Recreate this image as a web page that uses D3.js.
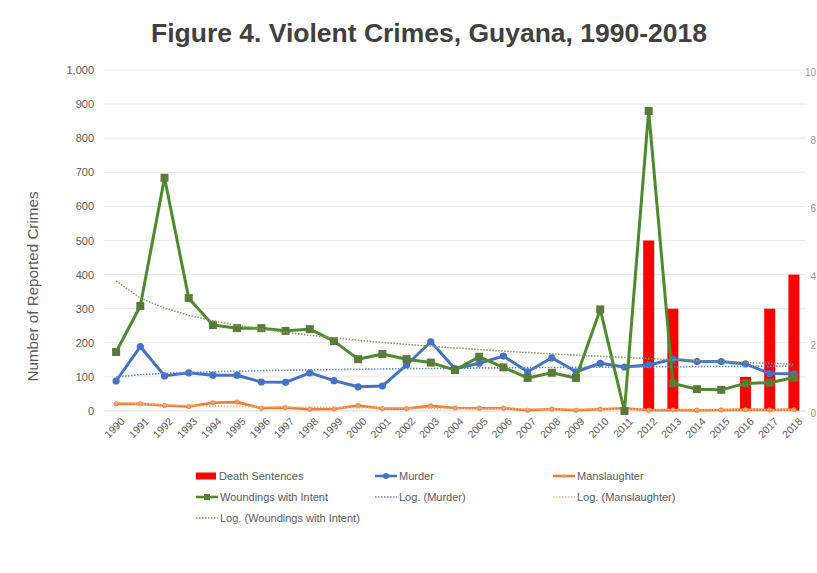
<!DOCTYPE html>
<html>
<head>
<meta charset="utf-8">
<script src="https://cdn.jsdelivr.net/npm/d3@7/dist/d3.min.js"></script>
<style>
  html, body { margin: 0; padding: 0; background: #fff; }
  svg text { font-family: "Liberation Sans", Arial, sans-serif; }
</style>
</head>
<body>
<svg id="chart" width="817" height="573"></svg>
<script>
// Violent crimes in Guyana, 1990-2018
const years = d3.range(1990, 2019).map(String);
const murder = [88,189,103,112,105,105,85,84,112,89,71,73,135,203,124,140,161,115,156,115,140,129,135,152,145,145,138,110,109];
const manslaughter = [21,21,16,13,24,26,8,10,5,6,16,7,7,15,9,8,8,2,6,2,5,8,2,3,2,3,4,3,4];
const woundings = [173,308,684,331,252,243,243,235,240,205,152,167,152,142,120,159,128,97,112,97,298,0,880,81,64,62,81,83,98];
const deathSentences = [0,0,0,0,0,0,0,0,0,0,0,0,0,0,0,0,0,0,0,0,0,0,5,3,0,0,1,3,4];
const leftTicks = [0,100,200,300,400,500,600,700,800,900,1000];
const rightTicks = [0,2,4,6,8,10];

const colors = {
  death: "#ff0000",
  murder: "#4472c4",
  manslaughter: "#ed7d31",
  woundings: "#4d8a2c",
  woundMarker: "#5a7a3c"
};

const svg = d3.select("#chart");
const plotL = 104, plotR = 806, plotT = 70, plotB = 411;

const x = d3.scaleBand().domain(years).range([plotL, plotR]);
const cx = d => x(d) + x.bandwidth() / 2;
const y = d3.scaleLinear().domain([0, 1000]).range([plotB, plotT]);
const y2 = d3.scaleLinear().domain([0, 10]).range([plotB, plotT]);

// Title
svg.append("text")
  .attr("x", 429).attr("y", 42)
  .attr("text-anchor", "middle")
  .attr("font-size", 25).attr("font-weight", "bold")
  .attr("fill", "#404040")
  .attr("textLength", 556).attr("lengthAdjust", "spacingAndGlyphs")
  .text("Figure 4. Violent Crimes, Guyana, 1990-2018");

// Horizontal gridlines
svg.append("g").selectAll("line").data(leftTicks.slice(1)).join("line")
  .attr("x1", plotL).attr("x2", plotR)
  .attr("y1", d => y(d)).attr("y2", d => y(d))
  .attr("stroke", "#e9e9e9").attr("stroke-width", 1);

// Left axis
const yAxis = svg.append("g")
  .attr("transform", `translate(${plotL - 10},0)`)
  .call(d3.axisLeft(y).tickValues(leftTicks).tickFormat(d3.format(",")).tickSize(0).tickPadding(0));
yAxis.select(".domain").remove();
yAxis.selectAll("text").attr("font-size", 11).attr("fill", "#595959")
  .attr("font-family", "Liberation Sans, Arial, sans-serif");

// Right axis (secondary, death sentences)
const y2Axis = svg.append("g")
  .attr("transform", `translate(816,2)`)
  .call(d3.axisLeft(y2).tickValues(rightTicks).tickSize(0).tickPadding(0));
y2Axis.select(".domain").remove();
y2Axis.selectAll("text").attr("font-size", 10).attr("fill", "#9a9a9a")
  .attr("font-family", "Liberation Sans, Arial, sans-serif");

// Axis title
svg.append("text")
  .attr("transform", `translate(38,${(plotT + plotB) / 2 + 46}) rotate(-90)`)
  .attr("text-anchor", "middle")
  .attr("font-size", 14).attr("fill", "#595959")
  .attr("textLength", 190).attr("lengthAdjust", "spacingAndGlyphs")
  .text("Number of Reported Crimes");

// Bars on the secondary scale
const barW = 11;
svg.append("g").selectAll("rect").data(years.map((yr, i) => ({yr, v: deathSentences[i]})).filter(d => d.v > 0))
  .join("rect")
  .attr("x", d => cx(d.yr) - barW / 2)
  .attr("y", d => y2(d.v))
  .attr("width", barW)
  .attr("height", d => y2(0) - y2(d.v))
  .attr("fill", colors.death);

// Baseline
svg.append("line")
  .attr("x1", plotL).attr("x2", plotR).attr("y1", plotB).attr("y2", plotB)
  .attr("stroke", "#d9d9d9").attr("stroke-width", 1);

// Bottom axis labels
const xAxis = svg.append("g")
  .attr("transform", `translate(0,${plotB + 4})`)
  .call(d3.axisBottom(x).tickSize(0).tickPadding(0));
xAxis.select(".domain").remove();
xAxis.selectAll("text")
  .attr("font-size", 10.5).attr("fill", "#595959")
  .attr("text-anchor", "end")
  .attr("dy", "0.7em")
  .attr("transform", "translate(4,2) rotate(-45)")
  .attr("font-family", "Liberation Sans, Arial, sans-serif");

// Logarithmic trendline: y = a*ln(k) + b, k = 1..n
function logTrend(vals) {
  const ls = vals.map((v, i) => Math.log(i + 1));
  const mx = d3.mean(ls), my = d3.mean(vals);
  let sxy = 0, sxx = 0;
  ls.forEach((l, i) => { sxy += (l - mx) * (vals[i] - my); sxx += (l - mx) * (l - mx); });
  const a = sxy / sxx, b = my - a * mx;
  return ls.map(l => a * l + b);
}

const line = d3.line().x((d, i) => cx(years[i])).y(d => y(d));

function trend(vals, color, dash) {
  svg.append("path")
    .datum(logTrend(vals))
    .attr("d", line)
    .attr("fill", "none")
    .attr("stroke", color)
    .attr("stroke-width", 1.6)
    .attr("stroke-dasharray", dash);
}

function series(vals, color, width) {
  svg.append("path")
    .datum(vals)
    .attr("d", line)
    .attr("fill", "none")
    .attr("stroke", color)
    .attr("stroke-width", width)
    .attr("stroke-linejoin", "round");
}

// Manslaughter
series(manslaughter, colors.manslaughter, 2.6);
svg.append("g").selectAll("circle").data(manslaughter).join("circle")
  .attr("cx", (d, i) => cx(years[i])).attr("cy", d => y(d)).attr("r", 2.2)
  .attr("fill", "#f0a070").attr("stroke", colors.manslaughter).attr("stroke-width", 0.8);
trend(manslaughter, "#f4b183", "1.5,1.5");

// Murder
series(murder, colors.murder, 3);
svg.append("g").selectAll("circle").data(murder).join("circle")
  .attr("cx", (d, i) => cx(years[i])).attr("cy", d => y(d)).attr("r", 3.6)
  .attr("fill", colors.murder);
trend(murder, "#5b8bd6", "1.5,1.5");

// Woundings with intent
series(woundings, colors.woundings, 3);
svg.append("g").selectAll("rect").data(woundings).join("rect")
  .attr("x", (d, i) => cx(years[i]) - 4).attr("y", d => y(d) - 4)
  .attr("width", 8).attr("height", 8)
  .attr("fill", colors.woundMarker);
trend(woundings, "#8a9a6a", "1.5,1.5");

// Legend
const legend = [
  {label: "Death Sentences", type: "bar", color: colors.death, col: 0, row: 0},
  {label: "Murder", type: "line", color: colors.murder, marker: "circle", col: 1, row: 0},
  {label: "Manslaughter", type: "line", color: colors.manslaughter, marker: "small", col: 2, row: 0},
  {label: "Woundings with Intent", type: "line", color: colors.woundings, marker: "square", col: 0, row: 1},
  {label: "Log. (Murder)", type: "dot", color: "#5b8bd6", col: 1, row: 1},
  {label: "Log. (Manslaughter)", type: "dot", color: "#f4b183", col: 2, row: 1},
  {label: "Log. (Woundings with Intent)", type: "dot", color: "#8a9a6a", col: 0, row: 2}
];
const colX = [196, 375, 553];
const rowY = [476, 497, 518];
const lg = svg.append("g").selectAll("g").data(legend).join("g")
  .attr("transform", d => `translate(${colX[d.col]},${rowY[d.row]})`);
lg.each(function(d) {
  const g = d3.select(this);
  if (d.type === "bar") {
    g.append("rect").attr("x", 0).attr("y", -3.5).attr("width", 20).attr("height", 7).attr("fill", d.color);
  } else {
    g.append("line").attr("x1", 0).attr("x2", 22).attr("y1", 0).attr("y2", 0)
      .attr("stroke", d.color).attr("stroke-width", d.type === "dot" ? 1.4 : 2.6)
      .attr("stroke-dasharray", d.type === "dot" ? "1.5,1.5" : null);
    if (d.marker === "circle") g.append("circle").attr("cx", 11).attr("r", 3).attr("fill", d.color);
    if (d.marker === "small") g.append("circle").attr("cx", 11).attr("r", 2).attr("fill", "#f0a070");
    if (d.marker === "square") g.append("rect").attr("x", 8).attr("y", -3).attr("width", 6).attr("height", 6).attr("fill", colors.woundMarker);
  }
  g.append("text").attr("x", d.type === "bar" ? 23 : 24).attr("y", 4)
    .attr("font-size", 11).attr("fill", "#595959").text(d.label);
});
</script>
</body>
</html>
